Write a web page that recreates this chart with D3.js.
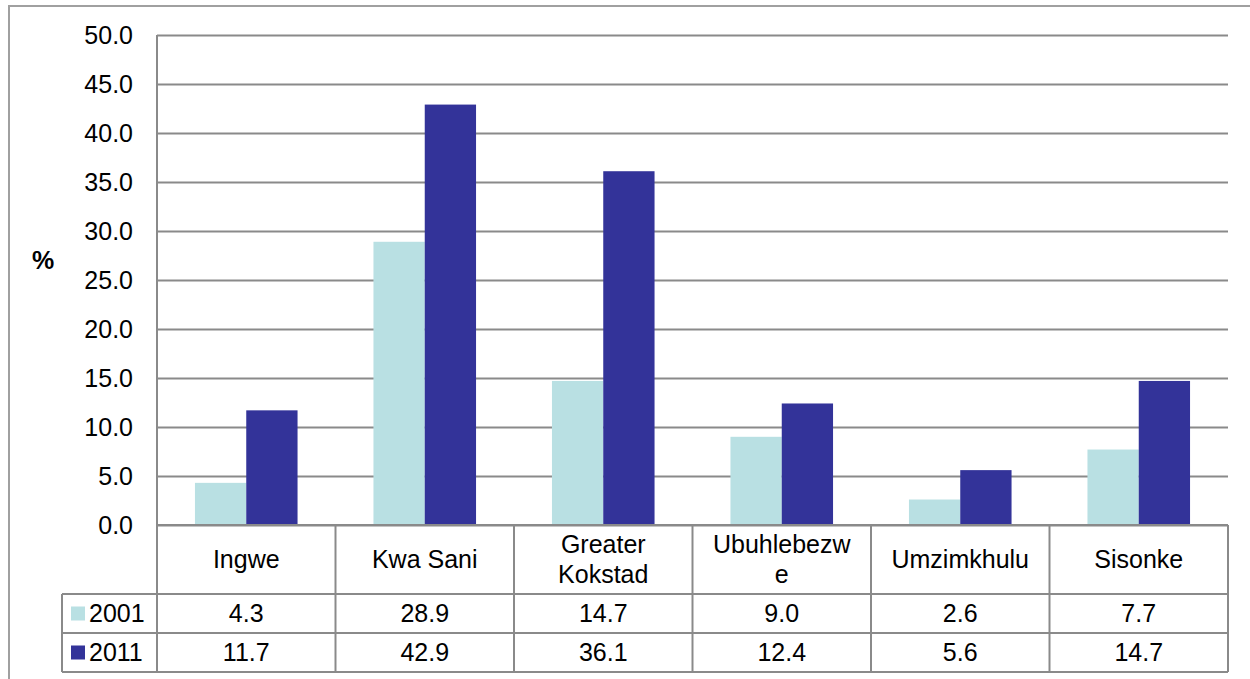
<!DOCTYPE html>
<html>
<head>
<meta charset="utf-8">
<script src="https://cdn.jsdelivr.net/npm/d3@7"></script>
<style>
  body { margin: 0; background: #fff; }
  svg text { font-family: "Liberation Sans", Arial, sans-serif; fill: #000; }
</style>
</head>
<body>
<div id="wrapper"></div>
<script>
// data
const categories = ["Ingwe", "Kwa Sani", "Greater Kokstad", "Ubuhlebezwe", "Umzimkhulu", "Sisonke"]
const seriesNames = ["2001", "2011"]
const values2001 = [4.3, 28.9, 14.7, 9.0, 2.6, 7.7]
const values2011 = [11.7, 42.9, 36.1, 12.4, 5.6, 14.7]
const yTicks = [0, 5, 10, 15, 20, 25, 30, 35, 40, 45, 50]

const seriesValues = [values2001, values2011]
const colors = ["#b9e0e3", "#333399"]
const gridColor = "#8a8a8a"

// 1. dimensions
let dimensions = {
  width: 1250,
  height: 679,
  margin: { top: 35, right: 22, bottom: 154, left: 157 },
}
dimensions.boundedWidth = dimensions.width - dimensions.margin.left - dimensions.margin.right
dimensions.boundedHeight = dimensions.height - dimensions.margin.top - dimensions.margin.bottom

const headerHeight = 69
const rowHeight = 39
const legendLeft = 62
const fontSize = 25

// 2. canvas
const wrapper = d3.select("#wrapper")
  .append("svg")
    .attr("width", dimensions.width)
    .attr("height", dimensions.height)

// outer frame
wrapper.append("path")
  .attr("d", `M9,${dimensions.height + 5} V6 H${dimensions.width + 5}`)
  .attr("fill", "none")
  .attr("stroke", "#a0a0a0")
  .attr("stroke-width", 2)

const bounds = wrapper.append("g")
  .attr("transform", `translate(${dimensions.margin.left},${dimensions.margin.top})`)

// 3. scales
const xScale = d3.scaleBand()
  .domain(categories)
  .range([0, dimensions.boundedWidth])

const innerScale = d3.scaleBand()
  .domain(seriesNames)
  .range([0, xScale.bandwidth()])
  .paddingInner(0)
  .paddingOuter(0.74)

const yScale = d3.scaleLinear()
  .domain([0, 50])
  .range([dimensions.boundedHeight, 0])

// 4. gridlines + y labels
const yAxisGenerator = d3.axisLeft(yScale)
  .tickValues(yTicks)
  .tickFormat(d3.format(".1f"))
  .tickSize(-dimensions.boundedWidth)
  .tickPadding(24)

const yAxis = bounds.append("g")
  .call(yAxisGenerator)
yAxis.select(".domain").remove()
yAxis.selectAll(".tick line")
  .attr("stroke", gridColor)
  .attr("stroke-width", 2)
yAxis.selectAll(".tick text")
  .style("font-size", fontSize + "px")
  .style("font-family", "'Liberation Sans', Arial, sans-serif")
  .attr("fill", "#000")

wrapper.append("text")
  .attr("x", 43)
  .attr("y", 262)
  .attr("text-anchor", "middle")
  .attr("dominant-baseline", "middle")
  .style("font-size", "25px")
  .style("font-weight", "bold")
  .text("%")

// 5. bars
const groups = bounds.selectAll(".series")
  .data(seriesNames)
  .enter().append("g")
    .attr("fill", (d, i) => colors[i])

groups.selectAll("rect")
  .data((s, i) => categories.map((c, j) => ({ cat: c, series: s, value: seriesValues[i][j] })))
  .enter().append("rect")
    .attr("x", d => xScale(d.cat) + innerScale(d.series))
    .attr("width", innerScale.bandwidth())
    .attr("y", d => yScale(d.value))
    .attr("height", d => yScale(0) - yScale(d.value))

// 6. data table
const table = bounds.append("g")
  .attr("transform", `translate(0,${dimensions.boundedHeight})`)

const lineStyle = sel => sel.attr("stroke", gridColor).attr("stroke-width", 2)
const tableBottom = headerHeight + rowHeight * 2
const legendX = legendLeft - dimensions.margin.left

// horizontal lines
table.append("line").call(lineStyle)
  .attr("x1", 0).attr("x2", dimensions.boundedWidth).attr("y1", 0).attr("y2", 0)
;[headerHeight, headerHeight + rowHeight, tableBottom].forEach(y => {
  table.append("line").call(lineStyle)
    .attr("x1", legendX).attr("x2", dimensions.boundedWidth).attr("y1", y).attr("y2", y)
})
// vertical lines (first one doubles as the y axis line)
table.append("line").call(lineStyle)
  .attr("x1", legendX).attr("x2", legendX).attr("y1", headerHeight).attr("y2", tableBottom)
categories.forEach((c, j) => {
  table.append("line").call(lineStyle)
    .attr("x1", xScale(c)).attr("x2", xScale(c))
    .attr("y1", j === 0 ? -dimensions.boundedHeight : 0)
    .attr("y2", tableBottom)
})
table.append("line").call(lineStyle)
  .attr("x1", dimensions.boundedWidth).attr("x2", dimensions.boundedWidth)
  .attr("y1", 0).attr("y2", tableBottom)

// wrap category labels to cell width
function wrapLabel(textSel, label, maxWidth) {
  const words = label.split(" ")
  const lines = []
  let line = ""
  const measure = s => { textSel.text(s); return textSel.node().getComputedTextLength() }
  words.forEach(w => {
    const tryLine = line ? line + " " + w : w
    if (measure(tryLine) <= maxWidth) { line = tryLine; return }
    if (line) lines.push(line)
    line = w
    while (measure(line) > maxWidth) {
      let k = line.length - 1
      while (k > 1 && measure(line.slice(0, k)) > maxWidth) k--
      lines.push(line.slice(0, k))
      line = line.slice(k)
    }
  })
  if (line) lines.push(line)
  textSel.text(null)
  const lh = 30
  lines.forEach((l, i) => {
    textSel.append("tspan")
      .attr("x", 0)
      .attr("y", (i - (lines.length - 1) / 2) * lh)
      .attr("dy", "0.35em")
      .text(l)
  })
}

categories.forEach((c, j) => {
  const cx = xScale(c) + xScale.bandwidth() / 2
  const t = table.append("text")
    .attr("transform", `translate(${cx},${headerHeight / 2})`)
    .attr("text-anchor", "middle")
    .style("font-size", fontSize + "px")
  wrapLabel(t, c, 146)

  seriesNames.forEach((s, i) => {
    table.append("text")
      .attr("x", cx)
      .attr("y", headerHeight + rowHeight * i + rowHeight / 2)
      .attr("dy", "0.35em")
      .attr("text-anchor", "middle")
      .style("font-size", fontSize + "px")
      .text(d3.format(".1f")(seriesValues[i][j]))
  })
})

// legend cells
seriesNames.forEach((s, i) => {
  const cy = headerHeight + rowHeight * i + rowHeight / 2
  table.append("rect")
    .attr("x", legendX + 9)
    .attr("y", cy - 7)
    .attr("width", 14)
    .attr("height", 14)
    .attr("fill", colors[i])
  table.append("text")
    .attr("x", legendX + 27)
    .attr("y", cy)
    .attr("dy", "0.35em")
    .style("font-size", fontSize + "px")
    .text(s)
})
</script>
</body>
</html>
